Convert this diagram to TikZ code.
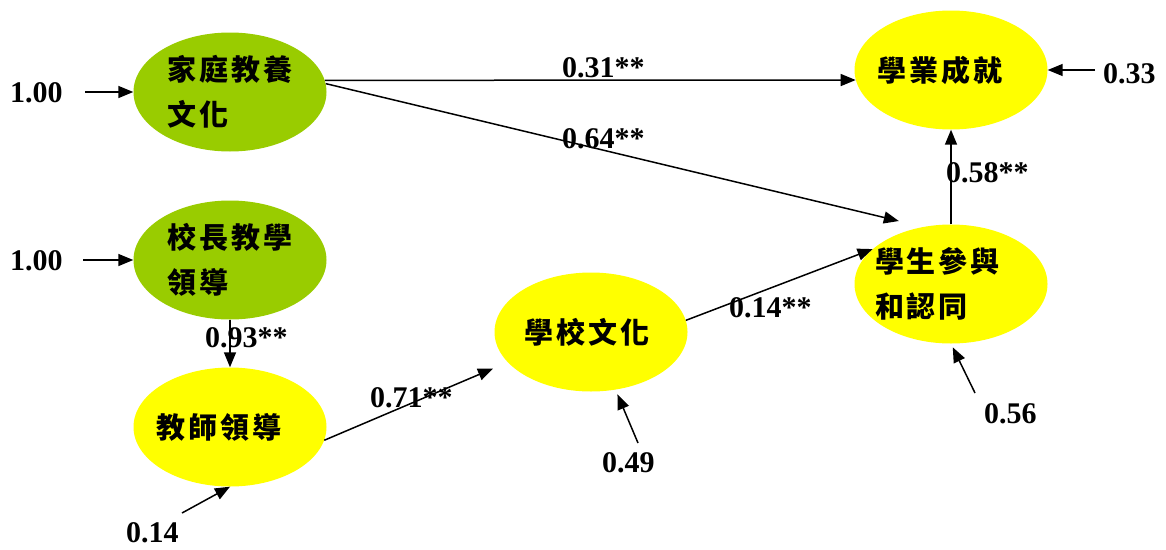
\documentclass[tikz,border=0pt]{standalone}
\usepackage{fontspec}
\setmainfont{Liberation Serif}
\newfontfamily\cjk[LetterSpace=10]{Noto Sans CJK TC}
\usetikzlibrary{shapes.geometric,arrows.meta}
\definecolor{lvgreen}{HTML}{99CC00}
\definecolor{lvyellow}{HTML}{FFFF00}
\newcommand{\latshiftc}[2]{\makebox[100pt][c]{\kern-#1\relax #2}}
\newcommand{\latshiftl}[2]{\makebox[110pt][l]{\kern-#1\relax #2}}
\begin{document}
\begin{tikzpicture}[x=1pt,y=-1pt,
  lat/.style={ellipse, draw=none, minimum width=193pt, minimum height=119pt, inner sep=0pt, align=left, font=\cjk\bfseries\fontsize{29}{45}\selectfont},
  exo/.style={lat, fill=lvgreen},
  endo/.style={lat, fill=lvyellow},
  num/.style={font=\bfseries\fontsize{30}{32}\selectfont, inner sep=0pt, anchor=base west},
  arr/.style={line width=1.5pt, -{Triangle[length=15pt,width=12pt]}}
]
\useasboundingbox (0,0) rectangle (1166,549);
% latent variables
\node[exo] (fam) at (230,92) {家庭教養\\文化};
\node[exo] (prn) at (230,260) {校長教學\\領導};
\node[endo] (tea) at (230,427) {\latshiftc{22pt}{教師領導}};
\node[endo] (scu) at (591,332) {\latshiftc{8pt}{學校文化}};
\node[endo] (stu) at (951,284) {\latshiftl{21pt}{學生參與}\\\latshiftl{21pt}{和認同}};
\node[endo] (ach) at (951,70) {\latshiftc{22pt}{學業成就}};
% labels
\node[num] (l1) at (10,102) {1.00};
\node[num] (l2) at (10,270) {1.00};
\node[num] (l3) at (205,347) {0.93**};
\node[num] (l4) at (126,542) {0.14};
\node[num] (l5) at (370,407) {0.71**};
\node[num] (l6) at (602,472) {0.49};
\node[num] (l7) at (729,317) {0.14**};
\node[num] (l8) at (984,423) {0.56};
\node[num] (l9) at (1103,83) {0.33};
\node[num] (l10) at (946,182) {0.58**};
\node[num] (l11) at (562,77) {0.31**};
\node[num] (l12) at (562,148) {0.64**};
% free ends
\coordinate (s1) at (85,92);
\coordinate (s2) at (83,260);
\coordinate (s3) at (182,513);
\coordinate (s4) at (638,443);
\coordinate (s5) at (975,393);
\coordinate (s6) at (1095,70);
% arrows
\draw[arr] (s1) -- (fam.west);
\draw[arr] (s2) -- (prn.west);
\draw[arr] (s3) -- (tea.south);
\draw[arr, shorten >=5pt] (s4) -- (scu.-67);
\draw[arr, shorten >=4pt] (s5) -- (stu.south);
\draw[arr] (s6) -- (ach.east);
\draw[arr] (fam.7) -- (ach.186);
\draw[arr, shorten >=25pt] (fam.5) -- (stu.116);
\draw[arr] (prn.south) -- (tea.north);
\draw[arr, shorten >=16pt] (tea.-8) -- (scu.200);
\draw[arr] (scu.7) -- (stu.156);
\draw[arr] (stu.north) -- (ach.south);
\end{tikzpicture}
\end{document}
